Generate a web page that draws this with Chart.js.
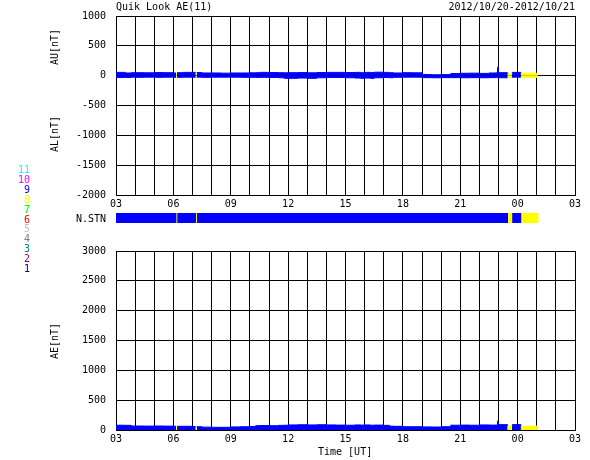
<!DOCTYPE html>
<html><head><meta charset="utf-8">
<script src="https://cdn.jsdelivr.net/npm/chart.js@4.4.1/dist/chart.umd.min.js"></script>
<style>
html,body{margin:0;padding:0;background:#fff;}
body{width:590px;height:460px;position:relative;overflow:hidden;font-family:"DejaVu Sans Mono","Liberation Mono",monospace;font-size:10px;color:#000;}
canvas{position:absolute;left:0;}
.t{position:absolute;white-space:nowrap;line-height:10px;}
.rot{transform:translate(-50%,-50%) rotate(-90deg);}
.r{transform:translate(-100%,-50%);}
</style></head><body>
<canvas id="top" width="590" height="215" style="top:0;width:590px;height:215px"></canvas>
<canvas id="stn" width="590" height="10" style="top:213px;width:590px;height:10px"></canvas>
<canvas id="bot" width="590" height="215" style="top:235px;width:590px;height:215px"></canvas>
<div class="t" style="left:116px;top:2px">Quik Look AE(11)</div>
<div class="t" style="right:15px;top:2px">2012/10/20-2012/10/21</div>
<div class="t rot" style="left:55px;top:47px">AU[nT]</div>
<div class="t rot" style="left:55px;top:134px">AL[nT]</div>
<div class="t rot" style="left:55px;top:341px">AE[nT]</div>
<div class="t r" style="left:106px;top:219px">N.STN</div>
<div class="t" style="left:318px;top:447px">Time [UT]</div>
<div id="leg"></div>
<script>
const hourLabels = ['03','06','09','12','15','18','21','00','03'];
const legendCounts = [11,10,9,8,7,6,5,4,3,2,1];
const stnColors = {11:'#00ffff',10:'#ff00ff',9:'#0000ff',8:'#ffff00',7:'#00ff00',6:'#ff0000',5:'#c0c0c0',4:'#808080',3:'#008080',2:'#800080',1:'#000080'};

// time in hours from 00 UT of 2012/10/20
const times = [3.0,3.5,3.8,4.0,4.5,5.0,5.5,6.0,6.14,6.19,6.5,7.0,7.17,7.22,7.5,8.0,8.5,9.0,9.5,10.0,10.3,10.5,11.0,11.5,11.8,12.0,12.5,13.0,13.5,14.0,14.5,15.0,15.5,15.8,16.0,16.3,16.5,17.0,17.3,17.5,18.0,18.5,19.0,19.5,20.0,20.5,21.0,21.5,22.0,22.5,22.9,22.95,23.0,23.48,23.7,24.17,24.5,25.0,25.07];
const au = [55,45,50,50,48,52,50,45,45,50,55,55,50,52,45,45,42,45,45,48,50,55,52,50,48,50,52,48,52,55,55,52,55,50,55,52,58,55,50,45,50,48,20,15,18,35,40,42,38,45,50,140,50,30,55,38,40,38,38];
const al = [-30,-30,-25,-28,-25,-28,-25,-28,-28,-28,-25,-28,-28,-25,-28,-25,-25,-25,-28,-28,-30,-28,-30,-35,-45,-45,-40,-45,-35,-30,-30,-35,-40,-45,-40,-45,-35,-30,-35,-28,-25,-25,-33,-35,-33,-33,-35,-33,-35,-33,-30,-35,-35,-30,-25,-28,-30,-28,-28];
const ae = [80,78,67,67,65,67,65,62,60,62,62,58,55,55,48,45,45,52,55,60,72,75,72,78,80,85,88,85,88,85,82,80,85,82,85,80,82,78,65,62,55,55,52,50,55,80,82,80,85,82,85,150,90,67,90,62,65,62,62];
const nstn = [9,9,9,9,9,9,9,9,8,9,9,9,8,9,9,9,9,9,9,9,9,9,9,9,9,9,9,9,9,9,9,9,9,9,9,9,9,9,9,9,9,9,9,9,9,9,9,9,9,9,9,9,9,8,9,8,8,8,8];

const stnStart = [3, 6.14, 6.19, 7.17, 7.22, 23.48, 23.7, 24.17];
const stnEnd   = [6.14, 6.19, 7.17, 7.22, 23.48, 23.7, 24.17, 25.07];
const stnCount = [9, 8, 9, 8, 9, 8, 9, 8];

const FONT = {family:'"DejaVu Sans Mono","Liberation Mono",monospace', size:10};

const leg = document.getElementById('leg');
legendCounts.forEach((n,i)=>{
  const d = document.createElement('div');
  d.className = 't r';
  d.style.left = '30px';
  d.style.top = (170 + i*9.9) + 'px';
  d.style.color = stnColors[n];
  d.textContent = String(n);
  leg.appendChild(d);
});

function xScale(show){
  return {
    type:'linear', min:3, max:27, display:show,
    grid:{color:'#000', lineWidth:1, drawTicks:false},
    border:{color:'#000', width:1},
    ticks:{stepSize:1, autoSkip:false, maxRotation:0, padding:3, color:'#000', font:FONT,
      callback:(v)=> ((v-3)%3===0 ? hourLabels[(v-3)/3] : '')},
    afterFit:(a)=>{a.height = 20;}
  };
}
function yScale(min,max){
  return {
    min:min, max:max,
    grid:{color:'#000', lineWidth:1, drawTicks:false},
    border:{color:'#000', width:1},
    ticks:{stepSize:500, padding:10, color:'#000', font:FONT, autoSkip:false,
      callback:(v)=>String(v)},
    afterFit:(a)=>{a.width = 116;}
  };
}
function series(vals){
  return {
    data: times.map((t,i)=>({x:t, y:vals[i]})),
    stepped:true, fill:'origin', pointRadius:0, borderWidth:1,
    borderColor:stnColors[9], backgroundColor:stnColors[9],
    segment:{
      borderColor:(c)=>stnColors[nstn[c.p0DataIndex]],
      backgroundColor:(c)=>stnColors[nstn[c.p0DataIndex]]
    }
  };
}
const common = {
  responsive:false, animation:false, events:[],
  plugins:{legend:{display:false}, tooltip:{enabled:false}, title:{display:false}},
  layout:{padding:{left:0, right:15, top:15, bottom:0}}
};

new Chart(document.getElementById('top'), {
  type:'line',
  data:{datasets:[series(au), series(al)]},
  options:Object.assign({}, common, {scales:{x:xScale(true), y:yScale(-2000,1000)}})
});

new Chart(document.getElementById('bot'), {
  type:'line',
  data:{datasets:[series(ae)]},
  options:Object.assign({}, common, {scales:{x:xScale(true), y:yScale(0,3000)}})
});

new Chart(document.getElementById('stn'), {
  type:'bar',
  data:{
    labels:['N.STN'],
    datasets: stnStart.map((s,i)=>({
      data:[[s, stnEnd[i]]],
      backgroundColor:stnColors[stnCount[i]],
      borderWidth:0, grouped:false,
      categoryPercentage:1, barPercentage:1
    }))
  },
  options:{
    indexAxis:'y', responsive:false, animation:false, events:[],
    plugins:{legend:{display:false}, tooltip:{enabled:false}},
    layout:{padding:{left:116, right:15, top:0, bottom:0}},
    scales:{
      x:{type:'linear', min:3, max:27, display:false},
      y:{type:'category', display:false}
    }
  }
});
</script>
</body></html>
